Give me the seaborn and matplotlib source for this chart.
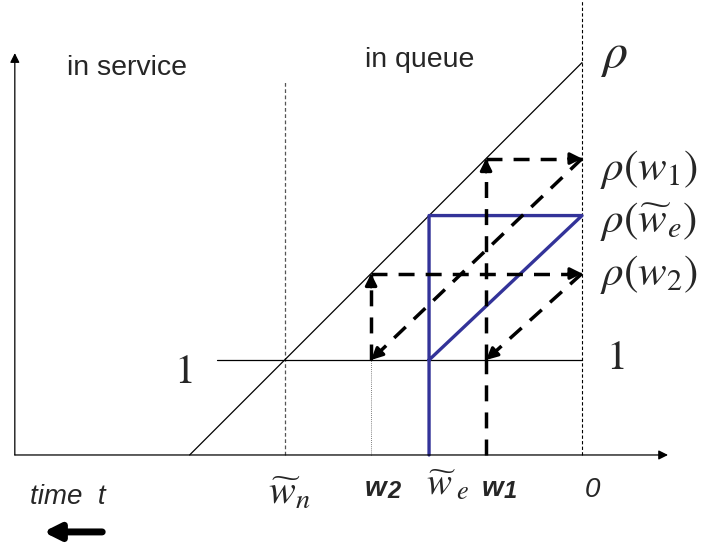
import matplotlib
matplotlib.use("Agg")
import matplotlib.pyplot as plt
import seaborn as sns

# =============================================================================
# Values (time runs to the left, 0 at the right end,
# one unit = the height of the level "1")
# =============================================================================
w1 = 1.01
we = 1.61
w2 = 2.22
wn = 3.13

rho_w1 = 3.12
rho_we = 2.52
rho_w2 = 1.91

# the rho line, from where it leaves the time axis up to t = 0
rho_line_t = [4.13, 0.0]
rho_line_v = [0.0, 4.13]

# the blue path for the equilibrium waiting time
blue_t = [we, we, 0.0, we]
blue_v = [0.0, rho_we, rho_we, 1.0]

# label texts
right_labels = [r'$\rho(w_1)$', r'$\rho(\widetilde{w}_e)$', r'$\rho(w_2)$']
right_levels = [rho_w1, rho_we, rho_w2]

BLUE = '#333399'
DASH = (0, (4.6, 3.2))

sns.set_style("white")
plt.rcParams['mathtext.fontset'] = 'stix'
plt.rcParams['font.family'] = ['Liberation Sans', 'DejaVu Sans']

fig = plt.figure(figsize=(7.06, 5.44), dpi=100)
ax = fig.add_axes([0, 0, 1, 1])
ax.set_xlim(6.126, -1.305)
ax.set_ylim(-0.937, 4.789)
ax.axis('off')


def arrow(x0, y0, x1, y1, lw=0.8, scale=12, style='-|>'):
    ax.annotate('', xy=(x1, y1), xytext=(x0, y0),
                arrowprops=dict(arrowstyle=style, color='k', lw=lw,
                                mutation_scale=scale, shrinkA=0, shrinkB=0))


def dashed_arrow(x0, y0, x1, y1):
    ax.plot([x0, x1], [y0, y1], color='k', lw=2.5, ls=DASH,
            solid_capstyle='butt', dash_capstyle='butt')
    # short solid piece at the end just for the head
    f = 0.14 / ((x1 - x0) ** 2 + (y1 - y0) ** 2) ** 0.5
    arrow(x1 - (x1 - x0) * f, y1 - (y1 - y0) * f, x1, y1, lw=2.3, scale=17)


# axes of the diagram
arrow(5.97, 0.0, -0.905, 0.0, lw=0.9, scale=14)
arrow(5.97, 0.0, 5.97, 4.23, lw=0.9, scale=14)

# guide lines
ax.plot([0, 0], [0, 4.79], color='k', lw=0.8, ls=(0, (3, 2)))
ax.plot([wn, wn], [0, 3.94], color='#555555', lw=0.9, ls=(0, (3, 2)))
ax.plot([w2, w2], [0, 1.0], color='#555555', lw=0.6, ls=(0, (1, 1.5)))
ax.plot([3.84, 0], [1.0, 1.0], color='k', lw=0.9)

# rho line
sns.lineplot(x=rho_line_t, y=rho_line_v, ax=ax, color='k', lw=0.9,
             sort=False, estimator=None)

# blue path
sns.lineplot(x=blue_t, y=blue_v, ax=ax, color=BLUE, lw=2.4,
             sort=False, estimator=None)

# first iteration, starting at w1
ax.plot([w1, w1], [0, 1.0], color='k', lw=2.5, ls=DASH)
dashed_arrow(w1, 1.0, w1, rho_w1)
dashed_arrow(w1, rho_w1, 0.0, rho_w1)
dashed_arrow(0.0, rho_w1, w2, 1.0)

# second iteration, from w2
dashed_arrow(w2, 1.0, w2, rho_w2)
dashed_arrow(w2, rho_w2, 0.0, rho_w2)
dashed_arrow(0.0, rho_w2, w1, 1.0)

# texts
ax.text(5.42, 4.07, 'in service', fontsize=20.5, ha='left', va='center')
ax.text(2.284, 4.16, 'in queue', fontsize=20.5, ha='left', va='center')
ax.text(-0.19, 4.20, r'$\rho$', fontsize=36, ha='left', va='center')
offsets = [-0.12, -0.06, -0.01]
for lab, lev, off in zip(right_labels, right_levels, offsets):
    ax.text(-0.19, lev + off, lab, fontsize=31, ha='left', va='center')

ax.text(4.196, 0.875, '$1$', fontsize=30, ha='center', va='center')
ax.text(-0.35, 1.02, '$1$', fontsize=30, ha='center', va='center')

ax.text(3.08, -0.40, r'$\widetilde{w}_n$', fontsize=29, ha='center', va='center')
ax.text(2.17, -0.36, 'w', fontsize=20, ha='center', va='center',
        fontweight='bold', fontstyle='italic')
ax.text(1.98, -0.38, '2', fontsize=17, ha='center', va='center',
        fontweight='bold', fontstyle='italic')
ax.text(1.42, -0.32, r'$\widetilde{w}\,_e$', fontsize=27, ha='center', va='center')
ax.text(0.94, -0.36, 'w', fontsize=20, ha='center', va='center',
        fontweight='bold', fontstyle='italic')
ax.text(0.76, -0.38, '1', fontsize=17, ha='center', va='center',
        fontweight='bold', fontstyle='italic')
ax.text(-0.11, -0.37, '0', fontsize=20, ha='center', va='center',
        fontstyle='italic')
ax.text(5.81, -0.44, 'time  t', fontsize=20, ha='left', va='center',
        fontstyle='italic')

# direction of time
arrow(5.05, -0.81, 5.67, -0.81, lw=5, scale=24, style='-|>')

fig.savefig('out.png', dpi=100)
